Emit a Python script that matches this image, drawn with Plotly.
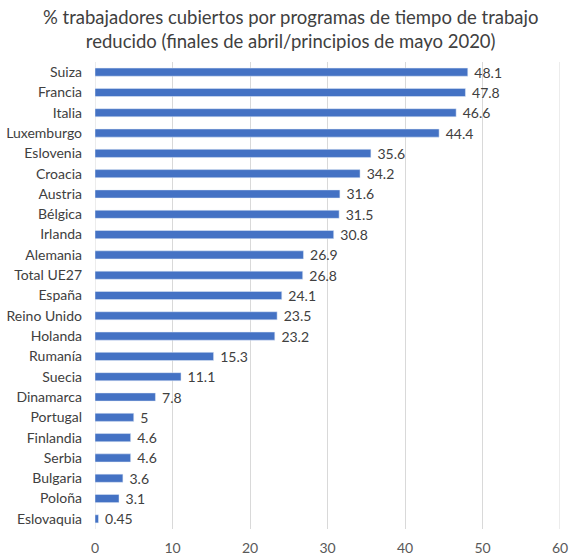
import plotly.graph_objects as go

countries = ["Suiza", "Francia", "Italia", "Luxemburgo", "Eslovenia", "Croacia", "Austria",
             "Bélgica", "Irlanda", "Alemania", "Total UE27", "España", "Reino Unido", "Holanda",
             "Rumanía", "Suecia", "Dinamarca", "Portugal", "Finlandia", "Serbia", "Bulgaria",
             "Poloña", "Eslovaquia"]
values = [48.1, 47.8, 46.6, 44.4, 35.6, 34.2, 31.6, 31.5, 30.8, 26.9, 26.8, 24.1, 23.5, 23.2,
          15.3, 11.1, 7.8, 5, 4.6, 4.6, 3.6, 3.1, 0.45]
labels = [f"{v:g}" for v in values]
x_ticks = [0, 10, 20, 30, 40, 50, 60]
title = "% trabajadores cubiertos por programas de tiempo de trabajo<br>reducido (finales de abril/principios de mayo 2020)"

font = "Lato, Open Sans, sans-serif"

fig = go.Figure(go.Bar(
    x=values, y=countries, orientation="h",
    marker_color="#4472C4",
    text=labels, texttemplate=" %{text}", textposition="outside", constraintext="none",
    textfont=dict(family=font, size=14, color="#404040"),
    cliponaxis=False,
))
fig.update_layout(
    width=575, height=560,
    margin=dict(l=95, r=15, t=62, b=31),
    plot_bgcolor="white", paper_bgcolor="white",
    bargap=0.6,
    font=dict(family=font, size=14, color="#595959"),
    showlegend=False,
    annotations=[dict(text=title, xref="paper", yref="paper", x=0.42, y=1.0707,
                      xanchor="center", yanchor="middle", showarrow=False,
                      font=dict(family=font, size=18.5, color="#404040"))],
)
fig.update_xaxes(range=[0, 60], tickvals=x_ticks, showgrid=True, gridcolor="#d9d9d9",
                 zeroline=False, showline=False, ticks="", ticklabelstandoff=9, automargin=False,
                 tickfont=dict(size=14, color="#595959"))
fig.update_yaxes(categoryorder="array", categoryarray=countries[::-1], showgrid=False,
                 ticks="", ticklabelstandoff=12, automargin=False,
                 tickfont=dict(size=14, color="#404040"))
for xv in (x_ticks[0], x_ticks[-1]):
    fig.add_shape(type="line", xref="x", yref="paper", x0=xv, x1=xv, y0=0, y1=1,
                  line=dict(color="#d9d9d9", width=1), layer="below")
fig.write_html("out.html")
